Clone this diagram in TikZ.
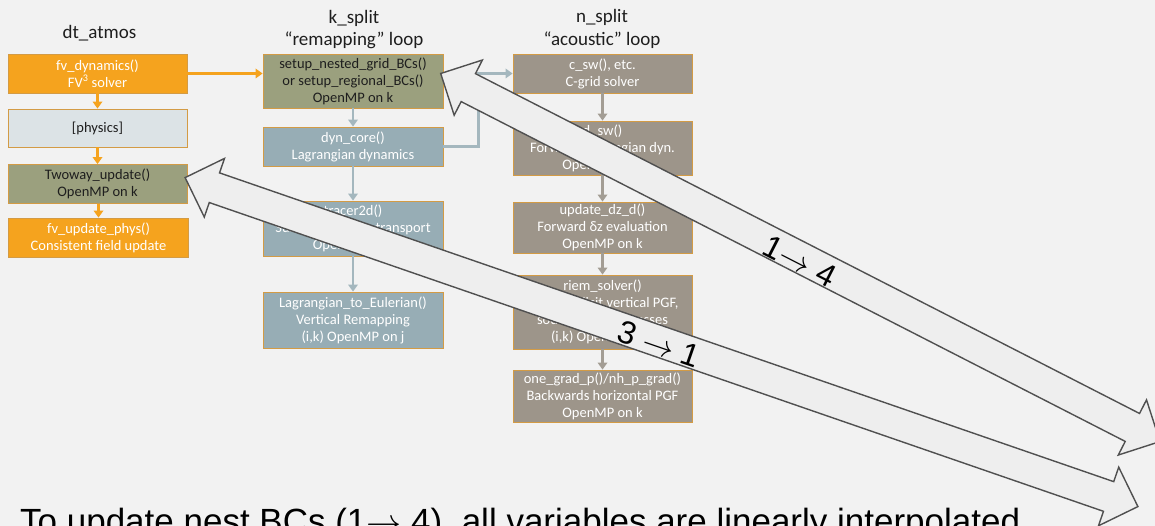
\RequirePackage{fix-cm}
\documentclass[tikz,border=0pt]{standalone}
\usepackage{fontspec}
\setmainfont{Carlito}
\newfontfamily\arialf{Liberation Sans}
\usetikzlibrary{arrows.meta,calc}
\definecolor{bg}{HTML}{F2F2F2}
\definecolor{orng}{HTML}{F5A31E}
\definecolor{phys}{HTML}{DCE3E6}
\definecolor{olive}{HTML}{9BA07E}
\definecolor{bluegray}{HTML}{97ADB5}
\definecolor{taupe}{HTML}{9D958A}
\definecolor{edgec}{HTML}{D39B45}
\definecolor{bgconn}{HTML}{A4B7BE}
\definecolor{tpconn}{HTML}{A39D94}
\definecolor{blkfill}{HTML}{EEEEEE}
\definecolor{blkedge}{HTML}{505050}
\definecolor{dark}{HTML}{1E1E1E}
\tikzset{
  box/.style={rectangle, draw=edgec, line width=0.8pt, inner sep=0pt, align=center,
    font=\fontsize{14.5}{17}\selectfont},
  orbox/.style={box, fill=orng, text=white},
  physbox/.style={box, fill=phys, text=dark},
  olbox/.style={box, fill=olive, text=dark},
  bgbox/.style={box, fill=bluegray, text=white},
  tpbox/.style={box, fill=taupe, text=white},
  title/.style={anchor=base, font=\fontsize{19}{22}\selectfont, text=dark},
  conn/.style={line width=2.6pt, -{Triangle[width=9.5pt,length=7pt]}},
  orconn/.style={conn, draw=orng},
  bgc/.style={conn, draw=bgconn},
  tpc/.style={conn, draw=tpconn},
  blockarr/.style={draw=blkedge, fill=blkfill, line width=1.4pt, line join=miter},
  arrlabel/.style={font=\arialf\fontsize{32}{32}\selectfont, text=black}
}
\newcommand\blockarrow[3]{%
  \begin{scope}[shift={#1}, rotate=#2]
    \draw[blockarr] (0,0) -- (31,-31) -- (31,-15.7) -- ({#3-31},-15.7) -- ({#3-31},-31)
      -- (#3,0) -- ({#3-31},31) -- ({#3-31},15.7) -- (31,15.7) -- (31,31) -- cycle;
  \end{scope}}
\begin{document}
\begin{tikzpicture}[x=1pt,y=-1pt]
\fill[bg] (0,0) rectangle (1155,526);
\useasboundingbox (0,0) rectangle (1155,526);

% titles
\node[title] (t1) at (99.5,39) {dt\_atmos};
\node[title] (t2a) at (354,24) {k\_split};
\node[title] (t2b) at (354,46) {“remapping” loop};
\node[title] (t3a) at (602,23) {n\_split};
\node[title] (t3b) at (602,46) {“acoustic” loop};

% column 1
\node[orbox, minimum width=179pt, minimum height=39pt] (fvdyn) at (97.5,73.5) {fv\_dynamics()\\FV\textsuperscript{3} solver};
\node[physbox, minimum width=179pt, minimum height=38pt] (phys) at (97.5,128) {[physics]};
\node[olbox, minimum width=179pt, minimum height=39pt] (twoway) at (97.5,184) {Twoway\_update()\\OpenMP on k};
\node[orbox, minimum width=180pt, minimum height=39pt] (fvupd) at (98.5,237.5) {fv\_update\_phys()\\Consistent field update};

% column 2
\node[olbox, minimum width=180pt, minimum height=54pt] (setup) at (353,81) {setup\_nested\_grid\_BCs()\\or setup\_regional\_BCs()\\OpenMP on k};
\node[bgbox, minimum width=180pt, minimum height=39pt] (dyncore) at (353,146.5) {dyn\_core()\\Lagrangian dynamics};
\node[bgbox, minimum width=180pt, minimum height=55pt] (tracer) at (353,228.5) {tracer2d()\\Subcycled tracer transport\\OpenMP on k};
\node[bgbox, minimum width=180pt, minimum height=56pt] (l2e) at (353,320) {Lagrangian\_to\_Eulerian()\\Vertical Remapping\\(i,k) OpenMP on j};

% column 3
\node[tpbox, minimum width=179pt, minimum height=39pt] (csw) at (602.5,73.5) {c\_sw(), etc.\\C-grid solver};
\node[tpbox, minimum width=179pt, minimum height=54pt] (dsw) at (602.5,148) {d\_sw()\\Forward Lagrangian dyn.\\OpenMP on k};
\node[tpbox, minimum width=179pt, minimum height=51pt] (upd) at (602.5,227.5) {update\_dz\_d()\\Forward δz evaluation\\OpenMP on k};
\node[tpbox, minimum width=179pt, minimum height=74pt] (riem) at (602.5,312) {riem\_solver()\\Semi-implicit vertical PGF,\\sound wave processes\\(i,k) OpenMP on j};
\node[tpbox, minimum width=179pt, minimum height=52pt] (onegrad) at (602.5,396) {one\_grad\_p()/nh\_p\_grad()\\Backwards horizontal PGF\\OpenMP on k};

% connectors
\draw[orconn] (fvdyn) -- (phys);
\draw[orconn] (phys) -- (twoway);
\draw[orconn] (twoway.south -| fvupd.north) -- (fvupd);
\draw[orconn] (fvdyn.east) -- (setup.west |- fvdyn.east);
\draw[bgc] (setup) -- (dyncore);
\draw[bgc] (dyncore) -- (tracer);
\draw[bgc] (tracer) -- (l2e);
\draw[bgc] (dyncore.east) -- ++(35,0) |- (csw.west);
\draw[tpc] (csw) -- (dsw);
\draw[tpc] (dsw) -- (upd);
\draw[tpc] (upd) -- (riem);
\draw[tpc] (riem) -- (onegrad);

% block arrows
\blockarrow{($(setup.east)+(-2.7,-7.5)$)}{-27.1}{808}
\blockarrow{($(twoway.east)+(-2.3,-6.4)$)}{-19.05}{1008}

\node[arrlabel, rotate=-27.1] (lab1) at (800,261) {1$\rightarrow$ 4};
\node[arrlabel, rotate=-19.05] (lab2) at (659,344) {3 $\rightarrow$ 1};

% bottom text
\node[anchor=base west, inner sep=0pt, font=\arialf\fontsize{35}{35}\selectfont, text=black] (bottom) at (20,533.5) {To update nest BCs (1$\rightarrow$ 4), all variables are linearly interpolated};
\end{tikzpicture}
\end{document}
